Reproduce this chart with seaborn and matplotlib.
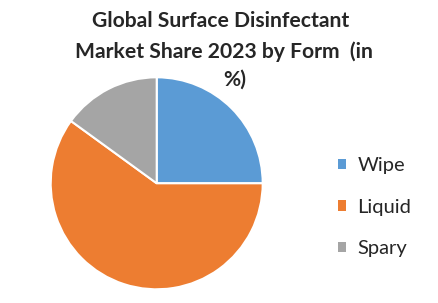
import matplotlib
matplotlib.use("Agg")
import matplotlib.pyplot as plt
import seaborn as sns
from matplotlib.patches import Patch

sns.set_theme(style="white")
plt.rcParams['font.family'] = ['Lato', 'DejaVu Sans']

categories = ["Wipe", "Liquid", "Spary"]
shares = [25, 60, 15]
colors = ["#5B9BD5", "#ED7D31", "#A5A5A5"]
title_lines = ["Global Surface Disinfectant", "Market Share 2023 by Form  (in", "%)"]

W, H = 439, 303
fig = plt.figure(figsize=(W / 100, H / 100), dpi=100)
cx, cy, r = 156.7, 183.3, 106
ax = fig.add_axes([(cx - r) / W, (H - cy - r) / H, 2 * r / W, 2 * r / H])
ax.pie(shares, colors=colors, startangle=90, counterclock=False, radius=1,
       wedgeprops=dict(edgecolor="white", linewidth=1.5))
ax.set_xlim(-1, 1)
ax.set_ylim(-1, 1)
ax.set_aspect("equal")
ax.axis("off")

title_pos = [(221, 26.7), (224, 58.3), (235, 86.0)]
for line, (tx, ty) in zip(title_lines, title_pos):
    fig.text(tx / W, 1 - ty / H, line, ha="center", va="baseline", fontsize=15.2,
             fontweight="bold")

handles = [Patch(facecolor=c, edgecolor="none") for c in colors]
fig.legend(handles, categories, loc="center left", bbox_to_anchor=(338 / W, 1 - 207 / H),
           frameon=False, fontsize=14.5, handlelength=0.42, handleheight=0.42,
           handletextpad=0.55, labelspacing=1.22, borderaxespad=0, borderpad=0)

fig.savefig("out.png", dpi=100)
